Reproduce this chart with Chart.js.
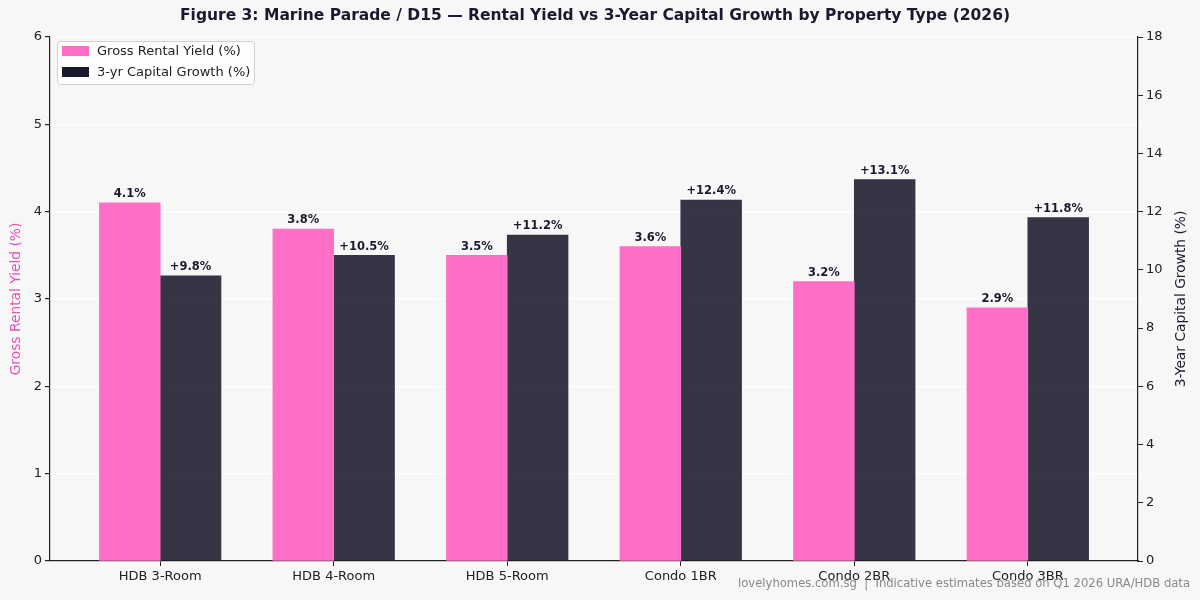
<!DOCTYPE html>
<html>
<head>
<meta charset="utf-8">
<script src="https://cdn.jsdelivr.net/npm/chart.js@4.4.1/dist/chart.umd.min.js"></script>
<style>
  html, body { margin: 0; padding: 0; background: #f7f7f7; }
  #wrap { width: 1200px; height: 600px; }
</style>
</head>
<body>
<div id="wrap"><canvas id="chart" width="1200" height="600"></canvas></div>
<script>
const categories = ["HDB 3-Room", "HDB 4-Room", "HDB 5-Room", "Condo 1BR", "Condo 2BR", "Condo 3BR"];
const rentalYield = [4.1, 3.8, 3.5, 3.6, 3.2, 2.9];
const capitalGrowth = [9.8, 10.5, 11.2, 12.4, 13.1, 11.8];
const yieldTicks = [0, 1, 2, 3, 4, 5, 6];
const growthTicks = [0, 2, 4, 6, 8, 10, 12, 14, 16, 18];

const PINK = "#ff6ec7";
const DARK = "#1a1a2e";
const DARK_BAR = "rgba(26,26,46,0.88)";
const FONT = "'DejaVu Sans', sans-serif";

const decor = {
  id: "decor",
  beforeDraw(chart) {
    const ctx = chart.ctx;
    ctx.save();
    ctx.fillStyle = "#f7f7f7";
    ctx.fillRect(0, 0, chart.width, chart.height);
    ctx.restore();
  },
  afterDatasetsDraw(chart) {
    const ctx = chart.ctx;
    const area = chart.chartArea;
    ctx.save();

    // value labels
    ctx.font = "bold 11.5px " + FONT;
    ctx.fillStyle = DARK;
    ctx.textAlign = "center";
    ctx.textBaseline = "bottom";
    chart.data.datasets.forEach((ds, di) => {
      chart.getDatasetMeta(di).data.forEach((bar, i) => {
        const v = ds.data[i].y;
        const txt = di === 0 ? v.toFixed(1) + "%" : "+" + v.toFixed(1) + "%";
        ctx.fillText(txt, bar.x, bar.y - 3);
      });
    });

    // title
    ctx.font = "bold 15.5px " + FONT;
    ctx.textBaseline = "middle";
    ctx.fillText("Figure 3: Marine Parade / D15 \u2014 Rental Yield vs 3-Year Capital Growth by Property Type (2026)", 595, 16);

    // axis titles
    ctx.font = "13.8px " + FONT;
    ctx.save();
    ctx.translate(16, (area.top + area.bottom) / 2);
    ctx.rotate(-Math.PI / 2);
    ctx.fillStyle = "#e055b5";
    ctx.fillText("Gross Rental Yield (%)", 0, 0);
    ctx.restore();
    ctx.save();
    ctx.translate(1181, (area.top + area.bottom) / 2);
    ctx.rotate(-Math.PI / 2);
    ctx.fillStyle = DARK;
    ctx.fillText("3-Year Capital Growth (%)", 0, 0);
    ctx.restore();

    // legend
    ctx.fillStyle = "rgba(255,255,255,0.85)";
    ctx.strokeStyle = "#d0d0d0";
    ctx.lineWidth = 1;
    ctx.beginPath();
    ctx.roundRect(57.5, 41.5, 197, 43, 3);
    ctx.fill();
    ctx.stroke();
    ctx.fillStyle = PINK;
    ctx.fillRect(62, 46, 27, 10);
    ctx.fillStyle = DARK;
    ctx.fillRect(62, 67, 27, 10);
    ctx.font = "13px " + FONT;
    ctx.textAlign = "left";
    ctx.fillStyle = "#222";
    ctx.fillText("Gross Rental Yield (%)", 97, 52);
    ctx.fillText("3-yr Capital Growth (%)", 97, 73);

    // footer
    ctx.font = "11.6px " + FONT;
    ctx.textAlign = "right";
    ctx.fillStyle = "#8a8a8a";
    ctx.fillText("lovelyhomes.com.sg  |  Indicative estimates based on Q1 2026 URA/HDB data", 1190, 584);
    ctx.restore();
  }
};

new Chart(document.getElementById("chart"), {
  type: "bar",
  data: {
    datasets: [
      {
        label: "Gross Rental Yield (%)",
        data: rentalYield.map((v, i) => ({ x: i, y: v })),
        backgroundColor: PINK,
        yAxisID: "y",
        barThickness: 60.8,
        borderWidth: 0
      },
      {
        label: "3-yr Capital Growth (%)",
        data: capitalGrowth.map((v, i) => ({ x: i, y: v })),
        backgroundColor: DARK_BAR,
        yAxisID: "y2",
        barThickness: 60.8,
        borderWidth: 0
      }
    ]
  },
  options: {
    responsive: false,
    animation: false,
    layout: { padding: { top: 37, left: 0, right: 0, bottom: 0 } },
    plugins: {
      legend: { display: false },
      title: { display: false },
      tooltip: { enabled: false }
    },
    scales: {
      x: {
        type: "linear",
        offset: false,
        min: -0.635,
        max: 5.635,
        afterBuildTicks: (axis) => { axis.ticks = categories.map((_, i) => ({ value: i })); },
        afterFit: (axis) => { axis.height = 39; },
        ticks: {
          callback: (v) => categories[v],
          font: { family: FONT, size: 13 },
          color: "#222",
          padding: 3,
          maxRotation: 0
        },
        grid: { offset: false, drawOnChartArea: false, drawTicks: true, tickLength: 5, tickColor: "#222" },
        border: { color: "#222", width: 1.2 }
      },
      y: {
        position: "left",
        min: 0,
        max: 6,
        afterBuildTicks: (axis) => { axis.ticks = yieldTicks.map((v) => ({ value: v })); },
        afterFit: (axis) => { axis.width = 50; },
        ticks: { font: { family: FONT, size: 13 }, color: "#222", padding: 3 },
        grid: { color: "#ffffff", lineWidth: 1.2, tickLength: 5, tickColor: "#222" },
        border: { color: "#222", width: 1.2 }
      },
      y2: {
        position: "right",
        min: 0,
        max: 18,
        afterBuildTicks: (axis) => { axis.ticks = growthTicks.map((v) => ({ value: v })); },
        afterFit: (axis) => { axis.width = 62; },
        ticks: { font: { family: FONT, size: 13 }, color: "#222", padding: 3 },
        grid: { drawOnChartArea: false, tickLength: 5, tickColor: "#222" },
        border: { color: "#222", width: 1.2 }
      }
    }
  },
  plugins: [decor]
});
</script>
</body>
</html>
